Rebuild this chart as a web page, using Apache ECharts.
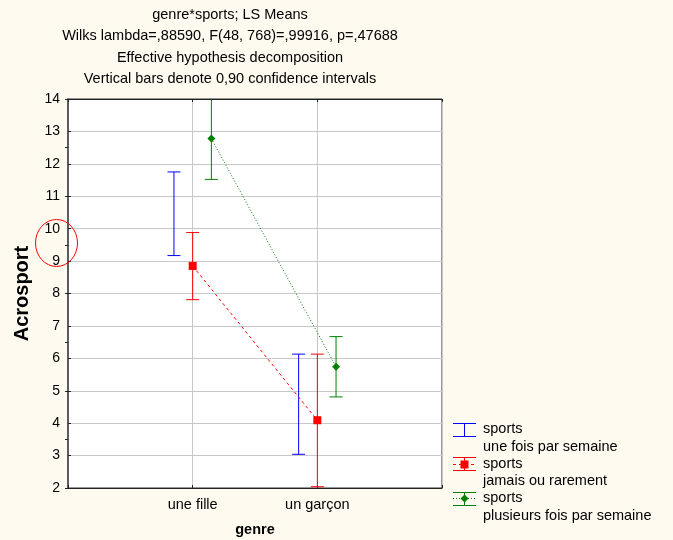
<!DOCTYPE html>
<html>
<head>
<meta charset="utf-8">
<script src="https://cdn.jsdelivr.net/npm/echarts@6/dist/echarts.min.js"></script>
<style>
html,body{margin:0;padding:0;background:#fefaf0;}
#c{width:673px;height:540px;}
</style>
</head>
<body>
<div id="c"></div>
<script>
// ---- data ----
const categories = ['une fille', 'un garçon'];
const groupNames = ['sports\nune fois par semaine', 'sports\njamais ou rarement', 'sports\nplusieurs fois par semaine'];
const titleLines = [
  'genre*sports; LS Means',
  'Wilks lambda=,88590, F(48, 768)=,99916, p=,47688',
  'Effective hypothesis decomposition',
  'Vertical bars denote 0,90 confidence intervals'
];
const yAxisName = 'Acrosport';
const xAxisName = 'genre';
// group 1: une fois par semaine (blue)
const blueLow = [9.17, 3.04];
const blueHigh = [11.75, 6.13];
// group 2: jamais ou rarement (red)
const redMean = [8.85, 4.09];
const redLow = [7.81, 2.04];
const redHigh = [9.88, 6.13];
// group 3: plusieurs fois par semaine (green)
const greenMean = [12.78, 5.74];
const greenLow = [11.52, 4.81];
const greenHigh = [14.04, 6.67];

// ---- style ----
const FONT = "'Liberation Sans', Arial, sans-serif";
const BLUE = '#0000ff', RED = '#ff0000', GREEN = '#008000';
const OFFSETS = [-0.15, 0, 0.15];

// one vertical line series (with flat caps) per category for each group
function errorBars(name, low, high, offset, color) {
  return categories.map((c, i) => ({
    type: 'line',
    name: name,
    z: 3,
    clip: true,
    data: [[i + 1 + offset, low[i]], [i + 1 + offset, high[i]]],
    symbol: 'rect',
    symbolSize: [13, 1],
    showAllSymbol: true,
    itemStyle: { color: color, borderWidth: 0 },
    lineStyle: { color: color, width: 1, type: 'solid' },
    emphasis: { disabled: true },
    silent: true
  }));
}

function meanLine(name, mean, offset, color, symbol, dash) {
  return {
    type: 'line',
    name: name,
    z: 4,
    data: categories.map((c, i) => [i + 1 + offset, mean[i]]),
    symbol: symbol,
    symbolSize: 8,
    showAllSymbol: true,
    itemStyle: { color: color },
    lineStyle: { color: color, width: 1, type: dash },
    emphasis: { disabled: true }
  };
}

// legend drawn as graphic (icon aligned with first text line)
const legendGraphics = [];
const legendColors = [BLUE, RED, GREEN];
const legendSymbols = [null, 'rect', 'diamond'];
const legendDash = [null, [3, 3], [1, 2]];
groupNames.forEach((nm, i) => {
  const y0 = 429 + i * 34.5;
  const col = legendColors[i];
  const x1 = 453, x2 = 476, xm = 464.5;
  const yt = Math.round(y0 - 6.5) + 0.5, yb = Math.round(y0 + 6.5) + 0.5;
  legendGraphics.push({ type: 'line', shape: { x1: x1, y1: yt, x2: x2, y2: yt }, style: { stroke: col, lineWidth: 1 } });
  legendGraphics.push({ type: 'line', shape: { x1: x1, y1: yb, x2: x2, y2: yb }, style: { stroke: col, lineWidth: 1 } });
  legendGraphics.push({ type: 'line', shape: { x1: xm, y1: yt, x2: xm, y2: yb }, style: { stroke: col, lineWidth: 1 } });
  if (legendDash[i]) {
    legendGraphics.push({ type: 'line', shape: { x1: x1, y1: Math.round(y0) + 0.5, x2: x2, y2: Math.round(y0) + 0.5 }, style: { stroke: col, lineWidth: 1, lineDash: legendDash[i] } });
  }
  if (legendSymbols[i] === 'rect') {
    legendGraphics.push({ type: 'rect', shape: { x: xm - 4, y: Math.round(y0) + 0.5 - 4, width: 8, height: 8 }, style: { fill: col } });
  } else if (legendSymbols[i] === 'diamond') {
    const yc = Math.round(y0) + 0.5;
    legendGraphics.push({ type: 'polygon', shape: { points: [[xm, yc - 4], [xm + 4, yc], [xm, yc + 4], [xm - 4, yc]] }, style: { fill: col } });
  }
  legendGraphics.push({
    type: 'text',
    x: 483,
    y: y0 - 8.5,
    style: { text: nm, font: '14.5px ' + FONT, fill: '#000', lineHeight: 17.5, verticalAlign: 'top', align: 'left' }
  });
});

// annotation circle near the y axis
legendGraphics.push({
  type: 'ellipse',
  z: 100,
  shape: { cx: 56.5, cy: 243, rx: 21, ry: 23.5 },
  style: { fill: 'none', stroke: '#ff0000', lineWidth: 1 }
});

const chart = echarts.init(document.getElementById('c'));
chart.setOption({
  animation: false,
  backgroundColor: '#fefaf0',
  textStyle: { fontFamily: FONT },
  title: {
    text: titleLines.join('\n'),
    left: 230,
    top: 4,
    padding: 0,
    textAlign: 'center',
    textStyle: { fontSize: 14.5, fontWeight: 'normal', color: '#000', lineHeight: 21.5, fontFamily: FONT }
  },
  grid: {
    left: 68, right: 231, top: 99, bottom: 52,
    show: true, backgroundColor: '#ffffff', borderColor: '#333', borderWidth: 1,
    containLabel: false,
    outerBoundsMode: 'none'
  },
  xAxis: [{
    type: 'value', min: 0, max: 3, interval: 1,
    name: xAxisName, nameLocation: 'middle', nameGap: 34,
    nameTextStyle: { fontSize: 14.5, fontWeight: 'bold', color: '#000', fontFamily: FONT },
    axisLine: { show: true, lineStyle: { color: '#222', width: 1 } },
    axisTick: { show: true, inside: true, length: 3, lineStyle: { color: '#222' } },
    axisLabel: { color: '#000', fontSize: 14.5, margin: 9, fontFamily: FONT,
      formatter: v => categories[v - 1] || '' },
    splitLine: { show: true, lineStyle: { color: '#c8c8c8', width: 1 } }
  }, {
    type: 'value', min: 0, max: 3, interval: 1, position: 'top',
    axisLine: { show: true, lineStyle: { color: '#222', width: 1 } },
    axisTick: { show: true, inside: true, length: 3, lineStyle: { color: '#222' } },
    axisLabel: { show: false }, splitLine: { show: false }
  }],
  yAxis: [{
    type: 'value', min: 2, max: 14, interval: 1,
    name: yAxisName, nameLocation: 'middle', nameGap: 36, nameRotate: 90,
    nameTextStyle: { fontSize: 20, fontWeight: 'bold', color: '#000', fontFamily: FONT },
    axisLine: { show: true, lineStyle: { color: '#666', width: 1.5 } },
    axisTick: { show: true, inside: true, length: 3, lineStyle: { color: '#222' } },
    axisLabel: { color: '#000', fontSize: 14, margin: 8, fontFamily: FONT },
    splitLine: { show: true, lineStyle: { color: '#c8c8c8', width: 1 } }
  }, {
    type: 'value', min: 1.5, max: 13.5, interval: 1.5, position: 'right',
    axisLine: { show: true, lineStyle: { color: '#555', width: 1.5 } },
    axisTick: { show: true, inside: true, length: 3, lineStyle: { color: '#222' } },
    axisLabel: { show: false }, splitLine: { show: false }
  }],
  series: [].concat(
    errorBars(groupNames[0], blueLow, blueHigh, OFFSETS[0], BLUE),
    errorBars(groupNames[1], redLow, redHigh, OFFSETS[1], RED),
    errorBars(groupNames[2], greenLow, greenHigh, OFFSETS[2], GREEN),
    [meanLine(groupNames[1], redMean, OFFSETS[1], RED, 'rect', [3, 3]),
     meanLine(groupNames[2], greenMean, OFFSETS[2], GREEN, 'diamond', [1, 2])]
  ),
  graphic: legendGraphics
});
</script>
</body>
</html>
